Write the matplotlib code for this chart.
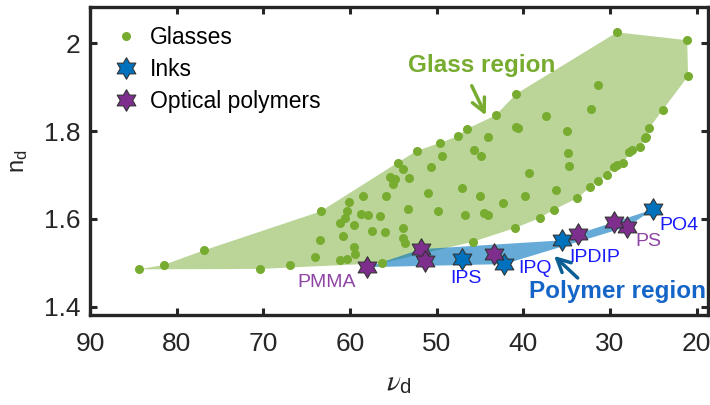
import numpy as np
import matplotlib
matplotlib.use("Agg")
import matplotlib.pyplot as plt
from matplotlib.path import Path
from matplotlib.patches import Polygon

plt.rcParams['font.family'] = ['Liberation Sans', 'DejaVu Sans']
plt.rcParams['mathtext.fontset'] = 'stix'

# === Data ===
glass_vd = [84.4, 81.5, 76.9, 70.4, 66.9, 64.0, 63.5, 63.4, 61.2, 60.4,
            59.6, 59.4, 60.8, 59.6, 61.2, 60.6, 60.3, 60.1, 58.5, 58.7,
            57.9, 57.5, 56.6, 56.0, 55.9, 56.3, 55.4, 55.1, 54.8, 54.5,
            53.9, 53.2, 53.3, 53.9, 53.9, 53.7, 51.0, 47.1, 45.0, 42.4,
            39.8, 36.2, 33.8, 39.4, 49.9, 46.7, 44.6, 44.1, 38.1, 41.0,
            45.8, 36.5, 29.2, 21.1, 21.0, 23.9, 25.5, 26.0, 25.8, 26.6,
            27.5, 27.8, 28.5, 29.2, 29.6, 30.3, 31.4, 32.3, 31.4, 32.2,
            35.0, 34.9, 34.7, 37.4, 40.8, 40.9, 40.6, 43.2, 44.1, 44.9,
            45.7, 46.5, 47.5, 49.6, 49.4, 52.3, 50.7]
glass_nd = [1.485, 1.495, 1.528, 1.486, 1.495, 1.514, 1.551, 1.617, 1.506, 1.509,
            1.537, 1.520, 1.561, 1.585, 1.590, 1.602, 1.619, 1.639, 1.651, 1.611,
            1.609, 1.572, 1.607, 1.569, 1.651, 1.499, 1.696, 1.680, 1.691, 1.728,
            1.713, 1.693, 1.622, 1.579, 1.556, 1.546, 1.659, 1.670, 1.652, 1.637,
            1.653, 1.665, 1.647, 1.704, 1.617, 1.609, 1.614, 1.609, 1.602, 1.579,
            1.548, 1.621, 2.025, 2.007, 1.925, 1.849, 1.806, 1.784, 1.786, 1.763,
            1.756, 1.753, 1.728, 1.723, 1.718, 1.699, 1.687, 1.672, 1.906, 1.851,
            1.801, 1.750, 1.721, 1.835, 1.885, 1.809, 1.807, 1.836, 1.786, 1.744,
            1.756, 1.805, 1.789, 1.773, 1.744, 1.755, 1.719]

# boundary of the glass region (indices into glass arrays)
glass_boundary = [0, 1, 2, 7, 29, 85, 83, 82, 81, 77, 74, 52, 53, 54, 55, 56,
                  58, 59, 60, 62, 63, 64, 65, 66, 67, 42, 51, 48, 49, 50, 25, 3]

ink_names = ['IPS', 'IPQ', 'IPDIP', 'PO4']
ink_vd = [47.1, 42.2, 35.6, 25.0]
ink_nd = [1.508, 1.497, 1.551, 1.622]

poly_vd = [58.0, 51.8, 51.4, 43.4, 33.7, 28.0, 29.6]
poly_nd = [1.490, 1.531, 1.505, 1.520, 1.566, 1.582, 1.592]

# boundary of the polymer region: (set, index)
polymer_boundary = [('p', 0), ('p', 1), ('i', 2), ('p', 4), ('p', 6),
                    ('i', 3), ('p', 5), ('i', 1)]

# label positions
ink_label_pos = [(46.6, 1.465), (38.7, 1.488), (31.8, 1.511), (22.0, 1.584)]
poly_label_pos = {'PMMA': (62.7, 1.454), 'PS': (25.6, 1.548)}

green = '#77ac30'
blue = '#0072bd'
purple = '#7e2f8e'
dark = '#262626'

hexagram = Path.unit_regular_star(6, 1 / np.sqrt(3))

fig = plt.figure(figsize=(7.1, 4.05), dpi=100)
ax = fig.add_axes([0.1268, 0.2222, 0.8704, 0.7598])

gx = [glass_vd[i] for i in glass_boundary]
gy = [glass_nd[i] for i in glass_boundary]
ax.add_patch(Polygon(np.column_stack([gx, gy]), closed=True,
                     facecolor=green, alpha=0.5, edgecolor='none', zorder=1))

px, py = [], []
for s, i in polymer_boundary:
    if s == 'p':
        px.append(poly_vd[i]); py.append(poly_nd[i])
    else:
        px.append(ink_vd[i]); py.append(ink_nd[i])
ax.add_patch(Polygon(np.column_stack([px, py]), closed=True,
                     facecolor=blue, alpha=0.6, edgecolor='none', zorder=2))

ax.plot(glass_vd, glass_nd, 'o', color=green, markersize=6.5, mec='none',
        label='Glasses', zorder=3)
ax.plot(ink_vd, ink_nd, linestyle='none', marker=hexagram, markersize=15.5,
        mfc=blue, mec='#333333', mew=0.8, label='Inks', zorder=4)
ax.plot(poly_vd, poly_nd, linestyle='none', marker=hexagram, markersize=15.5,
        mfc=purple, mec='#333333', mew=0.8, label='Optical polymers', zorder=4)

for name, (x, y) in zip(ink_names, ink_label_pos):
    ax.text(x, y, name, color='#1a1aff', fontsize=14, ha='center', va='center', zorder=5)
for name, (x, y) in poly_label_pos.items():
    ax.text(x, y, name, color='#8e44a4', fontsize=14, ha='center', va='center', zorder=5)

ax.text(44.8, 1.949, 'Glass region', color=green, fontsize=17.5, fontweight='bold',
        ha='center', va='center', zorder=5)
ax.annotate('', xy=(44.2, 1.830), xytext=(46.1, 1.909),
            arrowprops=dict(arrowstyle='->', color=green, lw=2.5, mutation_scale=24),
            zorder=5)
ax.text(29.1, 1.434, 'Polymer region', color='#1565c8', fontsize=17.5, fontweight='bold',
        ha='center', va='center', zorder=5)
ax.annotate('', xy=(36.7, 1.520), xytext=(33.5, 1.461),
            arrowprops=dict(arrowstyle='->', color='#0b5f94', lw=2.5, mutation_scale=24),
            zorder=5)

ax.set_xlim(90, 18.7)
ax.set_ylim(1.381, 2.082)
ax.set_xticks([90, 80, 70, 60, 50, 40, 30, 20])
ax.set_yticks([1.4, 1.6, 1.8, 2.0])
ax.set_yticklabels(['1.4', '1.6', '1.8', '2'])
ax.tick_params(direction='in', length=5, width=2.2, top=True, right=True,
               labelsize=19, colors=dark)
ax.tick_params(axis='x', pad=12)
ax.tick_params(axis='y', pad=7)
for sp in ax.spines.values():
    sp.set_linewidth(2.4)
    sp.set_color(dark)

ax.set_xlabel(r'$\nu_{\mathregular{d}}$', fontsize=21, color=dark, labelpad=9)
ax.set_ylabel(r'$\mathregular{n_d}$', fontsize=17, color=dark, labelpad=10)

ax.legend(loc='upper left', frameon=False, fontsize=16.5, handletextpad=0.3,
          borderaxespad=0.4, labelspacing=0.4, handlelength=1.5,
          bbox_to_anchor=(0.0, 1.0))

fig.savefig('out.png', dpi=100)
